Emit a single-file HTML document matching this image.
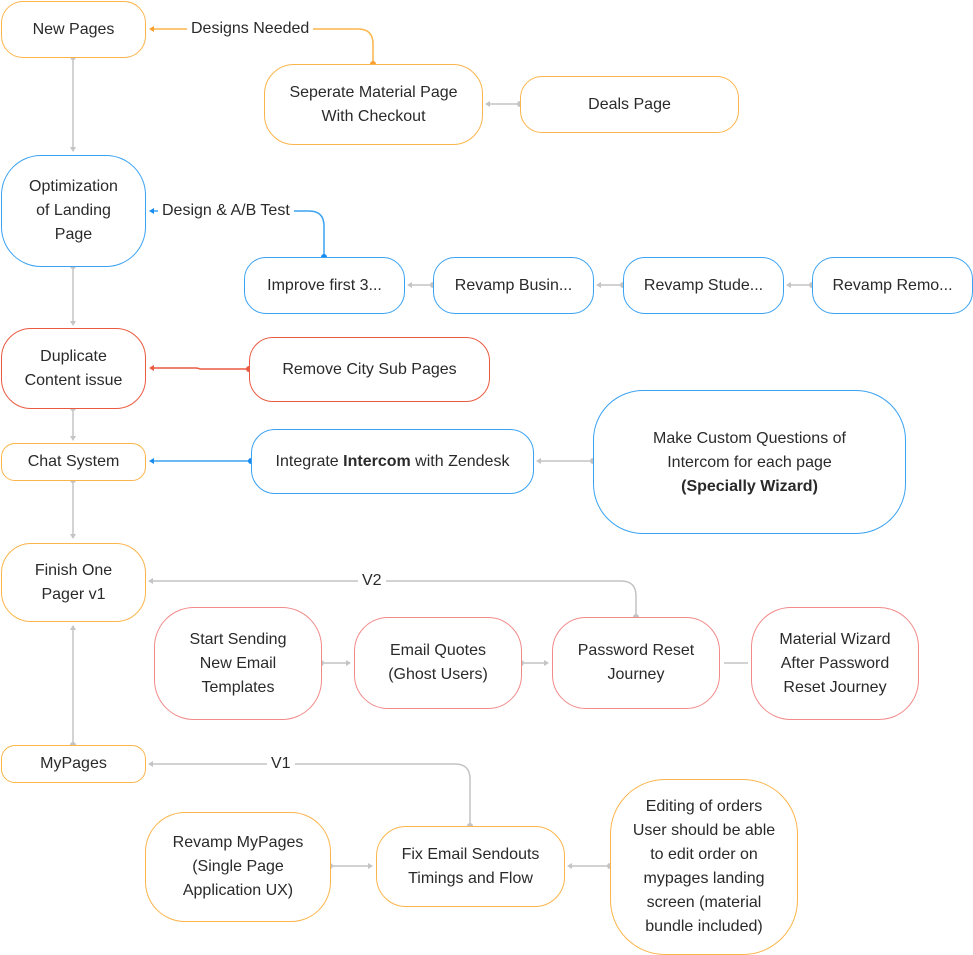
<!DOCTYPE html>
<html><head><meta charset="utf-8"><style>
body{margin:0;width:973px;height:955px;background:#fff;position:relative;overflow:hidden;font-family:"Liberation Sans",sans-serif;color:#2a2a2a;font-size:16px}
.n{position:absolute;box-sizing:border-box;border:1.5px solid;display:flex;align-items:center;justify-content:center;text-align:center;line-height:24px;background:#fff}
.o{border-color:#fbb54c}.b{border-color:#3aa2f2}.r{border-color:#f28a8a}.rd{border-color:#ea5a40}
.l{position:absolute;background:#fff;padding:0 4px;line-height:20px}
svg{position:absolute;left:0;top:0}
</style></head><body>
<svg width="973" height="955" fill="none" stroke-width="1.5">
<g stroke="#c4c4c4">
<line x1="73" y1="57" x2="73" y2="148"/>
<line x1="73" y1="266" x2="73" y2="322"/>
<line x1="73" y1="408" x2="73" y2="437"/>
<line x1="73" y1="480" x2="73" y2="537"/>
<line x1="73" y1="745" x2="73" y2="627"/>
<line x1="520" y1="104" x2="488" y2="104"/>
<line x1="433" y1="285" x2="410" y2="285"/>
<line x1="623" y1="285" x2="599" y2="285"/>
<line x1="812" y1="285" x2="789" y2="285"/>
<line x1="593" y1="461" x2="539" y2="461"/>
<line x1="321" y1="663" x2="348" y2="663"/>
<line x1="521" y1="663" x2="546" y2="663"/>
<line x1="724" y1="663" x2="748" y2="663"/>
<line x1="330" y1="866" x2="370" y2="866"/>
<line x1="610" y1="866" x2="570" y2="866"/>
<path d="M636 617 V596 Q636 581 621 581 H151"/>
<path d="M470 826 V779 Q470 764 455 764 H151"/>
</g>
<g fill="#c4c4c4">
<circle cx="73" cy="57" r="3"/><circle cx="73" cy="266" r="3"/><circle cx="73" cy="408" r="3"/><circle cx="73" cy="480" r="3"/><circle cx="73" cy="745" r="3"/>
<circle cx="520" cy="104" r="3"/><circle cx="433" cy="285" r="3"/><circle cx="623" cy="285" r="3"/><circle cx="812" cy="285" r="3"/><circle cx="593" cy="461" r="3"/>
<circle cx="321" cy="663" r="3"/><circle cx="521" cy="663" r="3"/><circle cx="636" cy="617" r="3"/><circle cx="470" cy="826" r="3"/><circle cx="330" cy="866" r="3"/><circle cx="610" cy="866" r="3"/>
<path d="M73 152 l-3-5 h6z"/><path d="M73 326 l-3-5 h6z"/><path d="M73 441 l-3-5 h6z"/><path d="M73 539 l-3-5 h6z"/><path d="M73 625 l-3 5 h6z"/>
<path d="M485 104 l5-3 v6z"/><path d="M407 285 l5-3 v6z"/><path d="M596 285 l5-3 v6z"/><path d="M786 285 l5-3 v6z"/><path d="M536 461 l5-3 v6z"/>
<path d="M351 663 l-5-3 v6z"/><path d="M549 663 l-5-3 v6z"/><path d="M148 581 l5-3 v6z"/><path d="M148 764 l5-3 v6z"/><path d="M373 866 l-5-3 v6z"/><path d="M567 866 l5-3 v6z"/>
</g>
<path stroke="#fbb54c" d="M373 64 V44 Q373 29 358 29 H153"/><circle cx="373" cy="64" r="3" fill="#f9a030"/><path fill="#f9a030" d="M149 29 l5-3 v6z"/>
<path stroke="#3aa2f2" d="M324 257 V226 Q324 211 309 211 H153"/><circle cx="324" cy="257" r="3" fill="#1a8cf0"/><path fill="#1a8cf0" d="M149 211 l5-3 v6z"/>
<path stroke="#ea5a40" d="M249 369 H200 Q198 368 196 368 H153"/><circle cx="249" cy="369" r="3" fill="#ea5a40"/><path fill="#ea5a40" d="M149 368 l5-3 v6z"/>
<path stroke="#3aa2f2" d="M251 461 H153"/><circle cx="251" cy="461" r="3" fill="#1a8cf0"/><path fill="#1a8cf0" d="M149 461 l5-3 v6z"/>
</svg>
<div class="l" style="left:187px;top:19px">Designs Needed</div>
<div class="l" style="left:158px;top:201px">Design &amp; A/B Test</div>
<div class="l" style="left:358px;top:571px">V2</div>
<div class="l" style="left:267px;top:754px">V1</div>

<div class="n o" style="left:1px;top:1px;width:145px;height:57px;border-radius:22px"><span>New Pages</span></div>
<div class="n o" style="left:264px;top:64px;width:219px;height:81px;border-radius:30px"><span>Seperate Material Page<br>With Checkout</span></div>
<div class="n o" style="left:520px;top:76px;width:219px;height:57px;border-radius:22px"><span>Deals Page</span></div>
<div class="n b" style="left:1px;top:155px;width:145px;height:112px;border-radius:40px"><span>Optimization<br>of Landing<br>Page</span></div>
<div class="n b" style="left:244px;top:257px;width:161px;height:57px;border-radius:22px"><span>Improve first 3...</span></div>
<div class="n b" style="left:433px;top:257px;width:161px;height:57px;border-radius:22px"><span>Revamp Busin...</span></div>
<div class="n b" style="left:623px;top:257px;width:161px;height:57px;border-radius:22px"><span>Revamp Stude...</span></div>
<div class="n b" style="left:812px;top:257px;width:161px;height:57px;border-radius:22px"><span>Revamp Remo...</span></div>
<div class="n rd" style="left:1px;top:328px;width:145px;height:81px;border-radius:30px"><span>Duplicate<br>Content issue</span></div>
<div class="n rd" style="left:249px;top:337px;width:241px;height:65px;border-radius:24px"><span>Remove City Sub Pages</span></div>
<div class="n o" style="left:1px;top:443px;width:145px;height:38px;border-radius:14px"><span>Chat System</span></div>
<div class="n b" style="left:251px;top:429px;width:283px;height:65px;border-radius:24px"><span>Integrate <b>Intercom</b> with Zendesk</span></div>
<div class="n b" style="left:593px;top:390px;width:313px;height:144px;border-radius:50px;align-items:flex-start;padding-top:36px"><span>Make Custom Questions of<br>Intercom for each page<br><b>(Specially Wizard)</b></span></div>
<div class="n o" style="left:1px;top:543px;width:145px;height:79px;border-radius:30px"><span>Finish One<br>Pager v1</span></div>
<div class="n r" style="left:154px;top:607px;width:168px;height:113px;border-radius:40px"><span>Start Sending<br>New Email<br>Templates</span></div>
<div class="n r" style="left:354px;top:617px;width:168px;height:92px;border-radius:34px"><span>Email Quotes<br>(Ghost Users)</span></div>
<div class="n r" style="left:552px;top:617px;width:168px;height:92px;border-radius:34px"><span>Password Reset<br>Journey</span></div>
<div class="n r" style="left:751px;top:607px;width:168px;height:113px;border-radius:40px"><span>Material Wizard<br>After Password<br>Reset Journey</span></div>
<div class="n o" style="left:1px;top:745px;width:145px;height:38px;border-radius:14px"><span>MyPages</span></div>
<div class="n o" style="left:145px;top:812px;width:186px;height:110px;border-radius:40px"><span>Revamp MyPages<br>(Single Page<br>Application UX)</span></div>
<div class="n o" style="left:376px;top:826px;width:189px;height:81px;border-radius:30px"><span>Fix Email Sendouts<br>Timings and Flow</span></div>
<div class="n o" style="left:610px;top:779px;width:188px;height:176px;border-radius:55px"><span>Editing of orders<br>User should be able<br>to edit order on<br>mypages landing<br>screen (material<br>bundle included)</span></div>
</body></html>
